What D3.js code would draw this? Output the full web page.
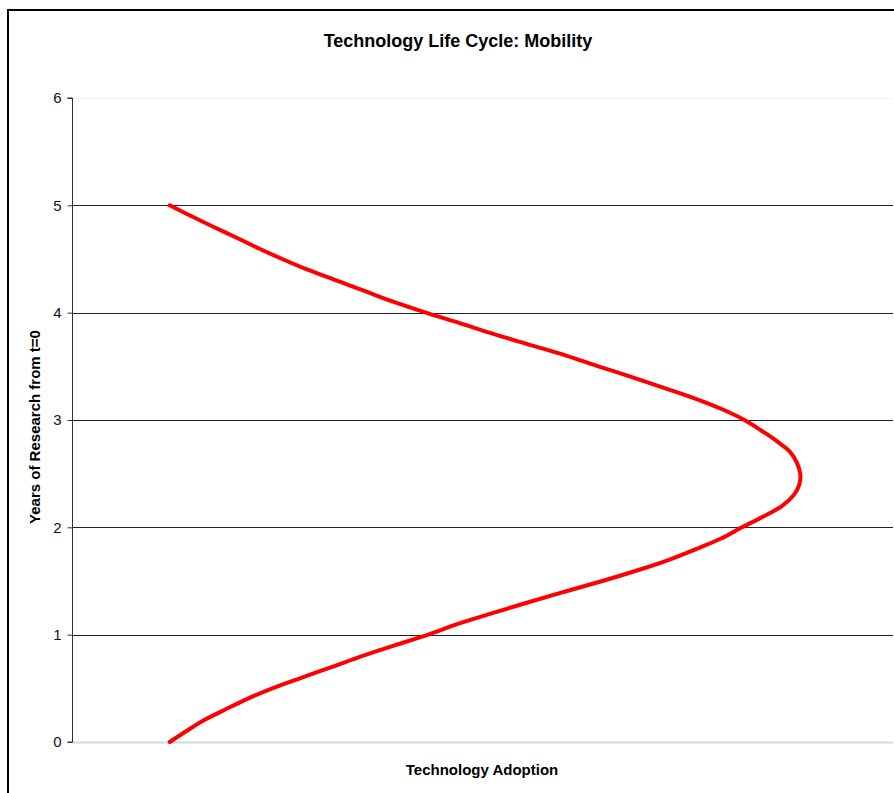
<!DOCTYPE html>
<html>
<head>
<meta charset="utf-8">
<script src="https://cdn.jsdelivr.net/npm/d3@7"></script>
<style>
  body { margin: 0; background: #fff; }
  svg { display: block; font-family: "Liberation Sans", Arial, sans-serif; }
</style>
</head>
<body>
<div id="chart"></div>
<script>
// years of research (y) and technology adoption (x)
var years = [0.0, 0.1, 0.2, 0.3, 0.4, 0.5, 0.6, 0.7, 0.8, 0.9,
             1.0, 1.1, 1.2, 1.3, 1.4, 1.5, 1.6, 1.7, 1.8, 1.9,
             2.0, 2.1, 2.2, 2.3, 2.4, 2.5, 2.6, 2.7, 2.8, 2.9,
             3.0, 3.1, 3.2, 3.3, 3.4, 3.5, 3.6, 3.7, 3.8, 3.9,
             4.0, 4.1, 4.2, 4.3, 4.4, 4.5, 4.6, 4.7, 4.8, 4.9, 5.0];
var adoption = [11.9, 13.9, 16.0, 18.6, 21.3, 24.4, 28.0, 31.7, 35.3, 39.3,
                43.4, 47.0, 51.2, 55.5, 60.0, 64.6, 68.9, 72.8, 76.1, 79.2,
                81.6, 84.2, 86.5, 87.9, 88.6, 88.7, 88.3, 87.5, 85.9, 84.0,
                81.9, 79.2, 75.9, 72.1, 68.2, 64.1, 60.2, 55.8, 51.4, 47.3,
                43.1, 39.2, 35.7, 32.2, 28.7, 25.6, 22.7, 20.0, 17.2, 14.5, 11.9];
var yTicks = [0, 1, 2, 3, 4, 5, 6];

var width = 894, height = 793;
var svg = d3.select('#chart').append('svg')
    .attr('width', width)
    .attr('height', height);

// chart area border (runs off the right and bottom edges)
svg.append('rect')
    .attr('x', 8).attr('y', 10)
    .attr('width', 1000).attr('height', 1000)
    .attr('fill', 'none')
    .attr('stroke', '#000')
    .attr('stroke-width', 2);

var x = d3.scaleLinear().domain([0, 100]).range([72, 893]);
var y = d3.scaleLinear().domain([0, 6]).range([742, 98]);

// gridlines
svg.append('g')
    .selectAll('line')
    .data(yTicks)
    .enter().append('line')
    .attr('x1', 72).attr('x2', 893)
    .attr('y1', function (d) { return Math.round(y(d)) + 0.5; })
    .attr('y2', function (d) { return Math.round(y(d)) + 0.5; })
    .attr('stroke', function (d) {
        if (d === 6) return '#f2f2f2';
        if (d === 0) return '#d8d8d8';
        return '#222';
    })
    .attr('stroke-width', function (d) { return d === 0 ? 2 : 1; });

// y axis
var yAxis = d3.axisLeft(y).tickValues(yTicks).tickSize(5).tickPadding(6)
    .tickFormat(d3.format('d'));
var ag = svg.append('g')
    .attr('transform', 'translate(72.5,0)')
    .call(yAxis);
ag.attr('font-size', 15).attr('font-family', null);
ag.select('.domain').attr('stroke', '#333').attr('d', 'M-5,' + y(6) + 'H0V' + y(0) + 'H-5');
ag.selectAll('.tick line').attr('stroke', '#333');
ag.selectAll('.tick text')
    .attr('fill', '#111')
    .style('font-size', '15px');

// the curve
var pts = years.map(function (v, i) { return [adoption[i], v]; });
var line = d3.line()
    .x(function (d) { return x(d[0]); })
    .y(function (d) { return y(d[1]); })
    .curve(d3.curveCatmullRom.alpha(0.5));

svg.append('path')
    .datum(pts)
    .attr('d', line)
    .attr('fill', 'none')
    .attr('stroke', '#ff0000')
    .attr('stroke-width', 4)
    .attr('stroke-linejoin', 'round')
    .attr('stroke-linecap', 'round');

// titles
svg.append('text')
    .attr('x', 458).attr('y', 47)
    .attr('text-anchor', 'middle')
    .style('font-size', '18px')
    .style('font-weight', 'bold')
    .text('Technology Life Cycle: Mobility');

svg.append('text')
    .attr('x', 482).attr('y', 775)
    .attr('text-anchor', 'middle')
    .style('font-size', '15px')
    .style('font-weight', 'bold')
    .text('Technology Adoption');

svg.append('text')
    .attr('transform', 'translate(40,427) rotate(-90)')
    .attr('text-anchor', 'middle')
    .style('font-size', '15px')
    .style('font-weight', 'bold')
    .text('Years of Research from t=0');
</script>
</body>
</html>
